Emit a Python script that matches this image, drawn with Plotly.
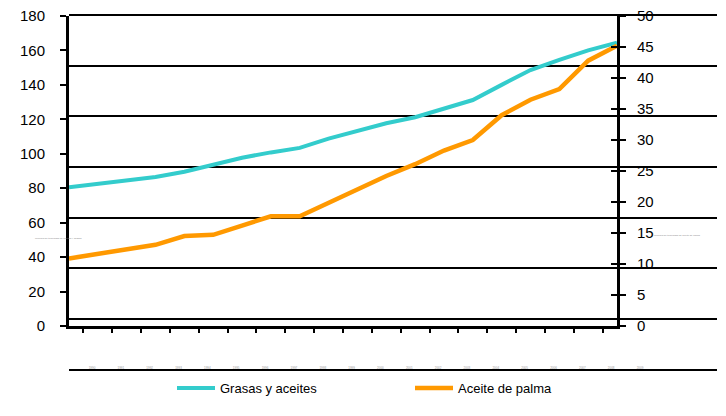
import plotly.graph_objects as go

# World production, million tonnes
years = [str(y) for y in range(1990, 2010)]
grasas_aceites = [80.5, 82.5, 84.5, 86.5, 89.6, 93.9, 97.7, 100.8, 103.4, 108.8,
                  113.4, 117.7, 121.2, 126.0, 131.2, 140.0, 148.6, 154.5, 160.0, 164.5]
aceite_palma = [10.9, 11.6, 12.3, 13.1, 14.5, 14.7, 16.2, 17.7, 17.7, 19.9,
                22.2, 24.2, 26.1, 28.3, 30.0, 34.0, 36.5, 38.2, 42.8, 45.2]

W, H = 726, 416
FONT = "Liberation Sans, Arial, sans-serif"


def px_x(p):
    return p / W


def px_y(p):
    return 1 - p / H


fig = go.Figure()

# Background band lines: a bare subplot whose horizontal grid spans the full width
fig.add_trace(go.Scatter(x=[], y=[], xaxis="x", yaxis="y",
                         showlegend=False, hoverinfo="skip"))

fig.add_trace(go.Scatter(
    x=years, y=grasas_aceites, name="Grasas y aceites",
    xaxis="x2", yaxis="y2", mode="lines",
    line=dict(color="#33CCCC", width=4),
))
fig.add_trace(go.Scatter(
    x=years, y=aceite_palma, name="Aceite de palma",
    xaxis="x2", yaxis="y3", mode="lines",
    line=dict(color="#FF9900", width=4.5),
))
# inner half of the right-hand tick marks
fig.add_trace(go.Scatter(x=[], y=[], xaxis="x2", yaxis="y4",
                         showlegend=False, hoverinfo="skip"))

fig.update_layout(
    width=W, height=H, autosize=False,
    margin=dict(l=0, r=0, t=0, b=0, autoexpand=False),
    paper_bgcolor="white",
    plot_bgcolor="rgba(0,0,0,0)",
    font=dict(family=FONT, color="black"),
    xaxis=dict(domain=[px_x(69), px_x(717)], range=[0, 1], visible=False),
    yaxis=dict(domain=[px_y(374.8), px_y(9.9)], range=[-0.1, 7.1],
               dtick=1, tick0=0, showgrid=True, gridcolor="black", gridwidth=2,
               zeroline=False, showline=False, showticklabels=False, ticks="",
               automargin=False),
    xaxis2=dict(domain=[px_x(69), px_x(617)], anchor="y2", type="category",
                tickson="boundaries", ticks="outside", ticklen=4, tickwidth=2,
                tickcolor="black", showline=True, linecolor="black", linewidth=3,
                showgrid=False, zeroline=False, automargin=False,
                tickfont=dict(size=3, color="#999999"),
                ticklabelstandoff=36, ticklabelshift=23),
    yaxis2=dict(domain=[px_y(326), px_y(16)], anchor="x2", range=[0, 180],
                dtick=20, tick0=0, ticks="outside", ticklen=6, tickwidth=2,
                tickcolor="black", showline=True, linecolor="black", linewidth=3,
                showgrid=False, zeroline=False, automargin=False,
                tickfont=dict(size=15, color="black"), ticklabelstandoff=12),
    yaxis3=dict(overlaying="y2", anchor="x2", side="right", range=[0, 50],
                dtick=5, tick0=0, ticks="outside", ticklen=6, tickwidth=2,
                tickcolor="black", showline=True, linecolor="black", linewidth=3,
                showgrid=False, zeroline=False, automargin=False,
                tickfont=dict(size=15, color="black"), ticklabelstandoff=8),
    yaxis4=dict(overlaying="y2", anchor="x2", side="right", range=[0, 50],
                dtick=5, tick0=0, ticks="inside", ticklen=6, tickwidth=2,
                tickcolor="black", showline=False, showgrid=False,
                zeroline=False, showticklabels=False, automargin=False),
    legend=dict(orientation="h", x=px_x(172), xanchor="left",
                y=px_y(388), yanchor="middle",
                entrywidth=185, entrywidthmode="pixels", itemwidth=38,
                font=dict(size=13, color="black"), bgcolor="rgba(0,0,0,0)"),
    showlegend=True,
    annotations=[
        dict(text="Millones de toneladas de aceites y grasas", x=px_x(33), y=px_y(238),
             xref="paper", yref="paper", showarrow=False,
             font=dict(size=2.5, color="#888888")),
        dict(text="Millones de toneladas de aceite de palma", x=px_x(703), y=px_y(235),
             xref="paper", yref="paper", showarrow=False,
             font=dict(size=2.5, color="#888888")),
    ],
)

fig.write_html("out.html", config={"responsive": False, "displayModeBar": False})
